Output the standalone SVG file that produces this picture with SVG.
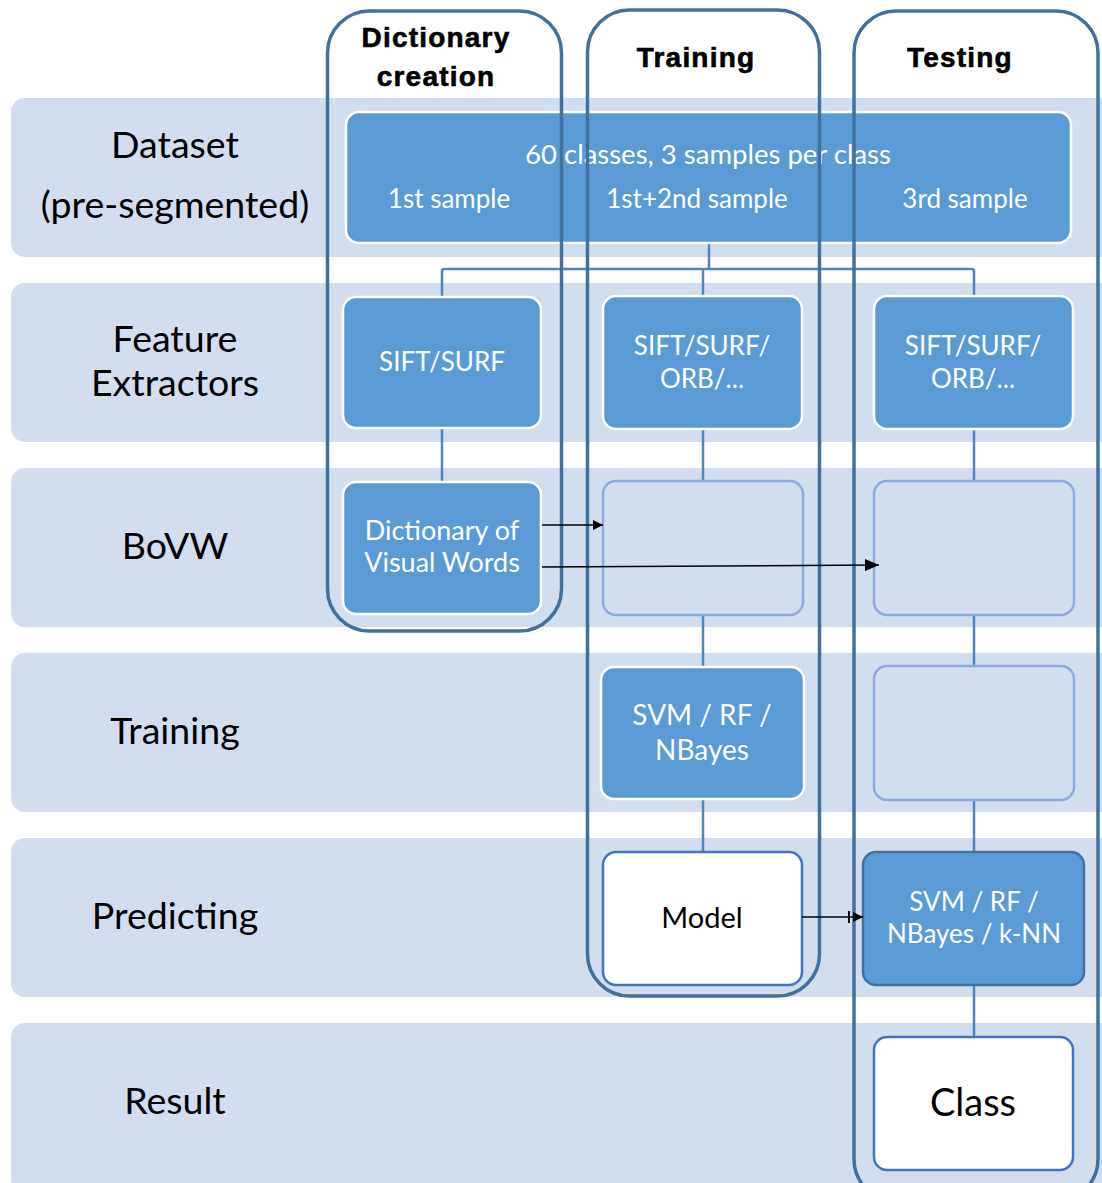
<svg xmlns="http://www.w3.org/2000/svg" width="1102" height="1183" viewBox="0 0 1102 1183">
<style>
.band{fill:#D2DDEE}
.lbl{font-family:Lato,"Liberation Sans",sans-serif;font-size:37.5px;fill:#000;text-anchor:middle}
.hdr{font-family:"Liberation Sans",Arial,sans-serif;font-weight:bold;font-size:28px;letter-spacing:1.2px;fill:#000;text-anchor:middle;stroke:#000;stroke-width:0.6}
.box{fill:#5B9BD5;stroke:#FFFFFF;stroke-width:2.5}
.boxd{fill:#5B9BD5;stroke:#41719C;stroke-width:2.5}
.empty{fill:#D2DDEE;stroke:#8FAADC;stroke-width:2.5}
.white{fill:#FFFFFF;stroke:#4472C4;stroke-width:2.5}
.wt{font-family:Lato,"Liberation Sans",sans-serif;font-size:26px;fill:#FFFFFF;text-anchor:middle}
.bt{font-family:Lato,"Liberation Sans",sans-serif;fill:#000;text-anchor:middle}
.lane{fill:none;stroke:#41719C;stroke-width:3.5}
.conn{fill:none;stroke:#4F86C0;stroke-width:2.5}
.arr{fill:none;stroke:#000;stroke-width:1.5}
</style>
<defs>
<marker id="ah" viewBox="0 0 10 10" refX="10" refY="5" markerWidth="10" markerHeight="10" markerUnits="userSpaceOnUse" orient="auto">
<path d="M0,0 L10,5 L0,10 Z" fill="#000"/>
</marker>
<marker id="ah2" viewBox="0 0 14 12" refX="14" refY="6" markerWidth="14" markerHeight="12" markerUnits="userSpaceOnUse" orient="auto">
<path d="M0,0 L14,6 L0,12 Z" fill="#000"/>
</marker>
</defs>

<g id="bands">
<rect class="band" x="11" y="98" width="1120" height="159" rx="14"/>
<rect class="band" x="11" y="283" width="1120" height="159" rx="14"/>
<rect class="band" x="11" y="468" width="1120" height="159" rx="14"/>
<rect class="band" x="11" y="653" width="1120" height="159" rx="14"/>
<rect class="band" x="11" y="838" width="1120" height="159" rx="14"/>
<rect class="band" x="11" y="1023" width="1120" height="170" rx="14"/>
</g>

<g id="row-labels">
<text class="lbl" x="175" y="158">Dataset</text>
<text class="lbl" x="175" y="218">(pre-segmented)</text>
<text class="lbl" x="175" y="352">Feature</text>
<text class="lbl" x="175" y="396">Extractors</text>
<text class="lbl" x="175" y="559">BoVW</text>
<text class="lbl" x="175" y="744">Training</text>
<text class="lbl" x="175" y="929">Predicting</text>
<text class="lbl" x="175" y="1114">Result</text>
</g>

<g id="connectors">
<path class="conn" d="M709,243 V269 M442,269 H974 M442,269 V297 M703,269 V297 M974,269 V297"/>
<path class="conn" d="M442,428 V482"/>
<path class="conn" d="M703,428 V481 M703,615 V667 M703,799 V852"/>
<path class="conn" d="M974,428 V481 M974,615 V666 M974,800 V852 M974,985 V1037"/>
</g>

<g id="dataset">
<rect class="box" x="346" y="112" width="725" height="131" rx="13"/>
<text class="wt" x="708" y="164" style="font-size:27.5px">60 classes, 3 samples per class</text>
<text class="wt" x="449" y="208">1st sample</text>
<text class="wt" x="697" y="208">1st+2nd sample</text>
<text class="wt" x="965" y="208">3rd sample</text>
</g>

<g id="fe-dict">
<rect class="box" x="343" y="297" width="198" height="131" rx="13"/>
<text class="wt" x="442" y="371">SIFT/SURF</text>
</g>
<g id="fe-train">
<rect class="box" x="603" y="296" width="199" height="133" rx="13"/>
<text class="wt" x="702" y="355">SIFT/SURF/</text>
<text class="wt" x="702" y="388">ORB/...</text>
</g>
<g id="fe-test">
<rect class="box" x="874" y="296" width="199" height="133" rx="13"/>
<text class="wt" x="973" y="355">SIFT/SURF/</text>
<text class="wt" x="973" y="388">ORB/...</text>
</g>

<g id="dvw">
<rect class="box" x="343" y="482" width="198" height="132" rx="13"/>
<text class="wt" x="442" y="540" style="font-size:27px">Dictionary of</text>
<text class="wt" x="442" y="572" style="font-size:27px">Visual Words</text>
</g>
<g id="bovw-train">
<rect class="empty" x="603" y="481" width="200" height="134" rx="13"/>
</g>
<g id="bovw-test">
<rect class="empty" x="874" y="481" width="200" height="134" rx="13"/>
</g>

<g id="clf-train">
<rect class="box" x="601" y="667" width="203" height="132" rx="13"/>
<text class="wt" x="702" y="725" style="font-size:28px">SVM / RF /</text>
<text class="wt" x="702" y="760" style="font-size:28px">NBayes</text>
</g>
<g id="train-test">
<rect class="empty" x="874" y="666" width="200" height="134" rx="13"/>
</g>

<g id="model">
<rect class="white" x="603" y="852" width="199" height="133" rx="13"/>
<text class="bt" x="702" y="928" style="font-size:29px">Model</text>
</g>
<g id="clf-test">
<rect class="boxd" x="863" y="852" width="221" height="133" rx="13"/>
<text class="wt" x="974" y="911">SVM / RF /</text>
<text class="wt" x="974" y="943">NBayes / k-NN</text>
</g>

<g id="class">
<rect class="white" x="874" y="1037" width="199" height="133" rx="13"/>
<text class="bt" x="973" y="1116" style="font-size:38px">Class</text>
</g>

<g id="lanes">
<rect class="lane" x="327.5" y="11" width="234" height="620" rx="42"/>
<rect class="lane" x="587.5" y="10" width="232" height="986" rx="42"/>
<rect class="lane" x="854" y="11" width="244" height="1190" rx="42"/>
<text class="hdr" x="436" y="47">Dictionary</text>
<text class="hdr" x="436" y="86">creation</text>
<text class="hdr" x="696" y="67">Training</text>
<text class="hdr" x="960" y="67">Testing</text>
</g>

<g id="arrows">
<path class="arr" d="M542,525 H603" marker-end="url(#ah)"/>
<path class="arr" d="M542,567 L879,565" marker-end="url(#ah2)"/>
<path class="arr" d="M802,917 H863" marker-end="url(#ah)"/>
<path d="M849,911 V923" stroke="#000" stroke-width="2"/>
</g>
</svg>
